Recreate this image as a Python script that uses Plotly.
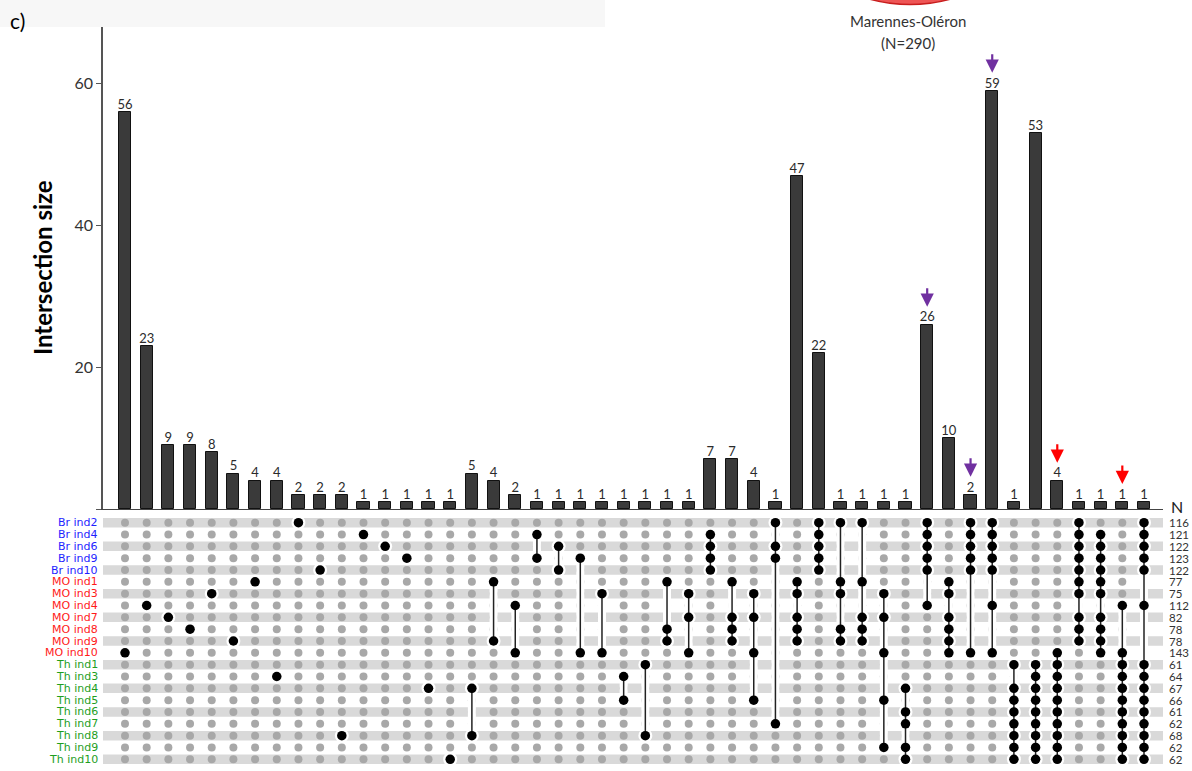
import plotly.graph_objects as go

# ---- data -------------------------------------------------------------
sets = ["Br ind2", "Br ind4", "Br ind6", "Br ind9", "Br ind10",
        "MO ind1", "MO ind3", "MO ind4", "MO ind7", "MO ind8", "MO ind9", "MO ind10",
        "Th ind1", "Th ind3", "Th ind4", "Th ind5", "Th ind6", "Th ind7", "Th ind8",
        "Th ind9", "Th ind10"]
set_sizes = [116, 121, 122, 123, 122, 77, 75, 112, 82, 78, 78, 143,
             61, 64, 67, 66, 61, 62, 68, 62, 62]

intersection_sizes = [56, 23, 9, 9, 8, 5, 4, 4, 2, 2, 2, 1, 1, 1, 1, 1,
                      5, 4, 2, 1, 1, 1, 1, 1, 1, 1, 1, 7, 7, 4, 1, 47,
                      22, 1, 1, 1, 1, 26, 10, 2, 59, 1, 53, 4, 1, 1, 1, 1]

BR = ["Br ind2", "Br ind4", "Br ind6", "Br ind9", "Br ind10"]
TH = ["Th ind1", "Th ind3", "Th ind4", "Th ind5", "Th ind6", "Th ind7", "Th ind8",
      "Th ind9", "Th ind10"]

intersection_members = [
    ["MO ind10"], ["MO ind4"], ["MO ind7"], ["MO ind8"], ["MO ind3"], ["MO ind9"],
    ["MO ind1"], ["Th ind3"], ["Br ind2"], ["Br ind10"], ["Th ind8"], ["Br ind4"],
    ["Br ind6"], ["Br ind9"], ["Th ind4"], ["Th ind10"],
    ["Th ind4", "Th ind8"],
    ["MO ind1", "MO ind9"],
    ["MO ind4", "MO ind10"],
    ["Br ind4", "Br ind9"],
    ["Br ind6", "Br ind10"],
    ["Br ind9", "MO ind10"],
    ["MO ind3", "MO ind10"],
    ["Th ind3", "Th ind5"],
    ["Th ind1", "Th ind8"],
    ["MO ind1", "MO ind8", "MO ind9"],
    ["MO ind3", "MO ind7", "MO ind10"],
    ["Br ind4", "Br ind6", "Br ind9", "Br ind10"],
    ["MO ind1", "MO ind7", "MO ind8", "MO ind9"],
    ["MO ind3", "MO ind7", "MO ind10", "Th ind5"],
    ["Br ind2", "Br ind6", "Br ind9", "Th ind7"],
    ["MO ind1", "MO ind3", "MO ind7", "MO ind8", "MO ind9"],
    BR,
    ["Br ind2", "MO ind1", "MO ind3", "MO ind8", "MO ind9"],
    ["Br ind2", "MO ind1", "MO ind7", "MO ind8", "MO ind9"],
    ["MO ind3", "MO ind7", "MO ind10", "Th ind5", "Th ind9"],
    ["Th ind4", "Th ind6", "Th ind7", "Th ind9", "Th ind10"],
    BR + ["MO ind4"],
    ["MO ind1", "MO ind3", "MO ind7", "MO ind8", "MO ind9", "MO ind10"],
    BR + ["MO ind10"],
    BR + ["MO ind4", "MO ind10"],
    [t for t in TH if t != "Th ind3"],
    TH,
    ["MO ind10"] + TH,
    BR + ["MO ind1", "MO ind3", "MO ind7", "MO ind8", "MO ind9"],
    ["Br ind4", "Br ind6", "Br ind9", "Br ind10",
     "MO ind1", "MO ind3", "MO ind7", "MO ind8", "MO ind9", "MO ind10"],
    ["MO ind4", "MO ind10"] + TH,
    BR + ["MO ind4"] + TH,
]

purple_marked = [37, 39, 40]   # intersections flagged with a purple arrow
red_marked = [43, 46]          # intersections flagged with a red arrow

group_colors = {"Br": "#1f1fff", "MO": "#ff1a1a", "Th": "#1e9e1e"}

# ---- geometry (pixels on a 1192 x 771 canvas) --------------------------
W, H = 1192, 771
L, R = 103, 1163
PW = R - L


def px_x(p):
    return (p - L) / PW


def px_y(p):
    return (H - p) / H


FONT = "Lato, 'Open Sans', sans-serif"
LABEL_FONT = "'DejaVu Sans', sans-serif"
n_cols = len(intersection_sizes)
cols = list(range(n_cols))
row_of = {s: i for i, s in enumerate(sets)}
step = (1144 - 125) / (n_cols - 1)
x_range = [-(125 - L) / step, (n_cols - 1) + (R - 1144) / step]

fig = go.Figure()

# ---- bar chart ------------------------------------------------------------
fig.add_trace(go.Bar(
    x=cols, y=intersection_sizes, width=0.56,
    marker=dict(color="#3a3a3a", line=dict(color="#111111", width=1)),
    xaxis="x", yaxis="y", hoverinfo="skip"))
fig.add_trace(go.Scatter(
    x=cols, y=intersection_sizes, mode="text",
    text=[str(v) for v in intersection_sizes], textposition="top center",
    textfont=dict(family=FONT, size=13, color="#2b2b2b"),
    cliponaxis=False, xaxis="x", yaxis="y", hoverinfo="skip"))

# ---- matrix -------------------------------------------------------------
shapes = []
for r in range(0, len(sets), 2):
    shapes.append(dict(type="rect", xref="paper", yref="y2", x0=0, x1=1,
                       y0=r - 0.4, y1=r + 0.4, fillcolor="#d9d9d9",
                       line=dict(width=0), layer="below"))

gx, gy, bx, by, lx, ly = [], [], [], [], [], []
for c, members in enumerate(intersection_members):
    rows = sorted(row_of[m] for m in members)
    for r in range(len(sets)):
        if r in rows:
            bx.append(c)
            by.append(r)
        else:
            gx.append(c)
            gy.append(r)
    if len(rows) > 1:
        lx += [c, c, None]
        ly += [rows[0], rows[-1], None]

fig.add_trace(go.Scatter(x=gx, y=gy, mode="markers",
                         marker=dict(size=8, color="#a8a8a8"),
                         xaxis="x", yaxis="y2", hoverinfo="skip"))
fig.add_trace(go.Scatter(x=lx, y=ly, mode="lines",
                         line=dict(color="white", width=8),
                         xaxis="x", yaxis="y2", hoverinfo="skip"))
fig.add_trace(go.Scatter(x=bx, y=by, mode="markers",
                         marker=dict(size=14, color="white"),
                         xaxis="x", yaxis="y2", hoverinfo="skip"))
fig.add_trace(go.Scatter(x=lx, y=ly, mode="lines",
                         line=dict(color="#222222", width=1.5),
                         xaxis="x", yaxis="y2", hoverinfo="skip"))
fig.add_trace(go.Scatter(x=bx, y=by, mode="markers",
                         marker=dict(size=9.5, color="black"),
                         xaxis="x", yaxis="y2", hoverinfo="skip"))

annotations = []
for r, (name, n) in enumerate(zip(sets, set_sizes)):
    annotations.append(dict(x=px_x(100), y=r, xref="paper", yref="y2",
                            xanchor="right", yanchor="middle", showarrow=False,
                            text=name, font=dict(family=LABEL_FONT, size=11,
                                                 color=group_colors[name[:2]])))
    annotations.append(dict(x=px_x(1167), y=r, xref="paper", yref="y2",
                            xanchor="left", yanchor="middle", showarrow=False,
                            text=str(n), font=dict(family=FONT, size=11.5, color="#333333")))
annotations.append(dict(x=px_x(1169), y=px_y(506), xref="paper", yref="paper",
                        xanchor="left", yanchor="middle", showarrow=False,
                        text="N", font=dict(family=FONT, size=16, color="#222222")))

# arrows flagging intersections
for idxs, colr in ((purple_marked, "#7030a0"), (red_marked, "#ff0000")):
    for c in idxs:
        annotations.append(dict(x=c, y=intersection_sizes[c], xref="x", yref="y",
                                ax=0, ay=-38, axref="pixel", ayref="pixel",
                                showarrow=True, arrowhead=2, arrowsize=1.2,
                                arrowwidth=2.2, arrowcolor=colr, standoff=18, text=""))

# axis title and panel texts
annotations.append(dict(x=px_x(42), y=px_y(268), xref="paper", yref="paper",
                        xanchor="center", yanchor="middle",
                        textangle=-90, showarrow=False, text="<b>Intersection size</b>",
                        font=dict(family=FONT, size=24, color="black")))
annotations.append(dict(x=px_x(8), y=px_y(20), xref="paper", yref="paper",
                        xanchor="left", yanchor="middle", showarrow=False, text="c)",
                        font=dict(family=FONT, size=21, color="black")))
annotations.append(dict(x=px_x(908), y=px_y(21), xref="paper", yref="paper",
                        xanchor="center", yanchor="middle", showarrow=False,
                        text="Marennes-Oléron", font=dict(family=FONT, size=15, color="#333333")))
annotations.append(dict(x=px_x(908), y=px_y(43), xref="paper", yref="paper",
                        xanchor="center", yanchor="middle", showarrow=False,
                        text="(N=290)", font=dict(family=FONT, size=15, color="#333333")))

# light header strip and the edge of the Marennes-Oléron circle
shapes.append(dict(type="rect", xref="paper", yref="paper",
                   x0=px_x(0), x1=px_x(605), y0=px_y(27), y1=px_y(0),
                   fillcolor="#f7f7f7", line=dict(width=0), layer="below"))
shapes.append(dict(type="circle", xref="paper", yref="paper",
                   x0=px_x(756), x1=px_x(1064), y0=px_y(4.5), y1=px_y(-303.5),
                   fillcolor="#ee5555", line=dict(color="#c81e1e", width=1.5)))

fig.update_layout(
    width=W, height=H,
    margin=dict(l=L, r=W - R, t=0, b=0),
    paper_bgcolor="white", plot_bgcolor="rgba(0,0,0,0)",
    showlegend=False, bargap=0,
    font=dict(family=FONT, color="#333333"),
    xaxis=dict(domain=[0, 1], range=x_range, anchor="y", showgrid=False,
               zeroline=False, showticklabels=False, ticks="",
               showline=True, linecolor="#444444", linewidth=1),
    yaxis=dict(domain=[px_y(509), px_y(27)], range=[0, 68], anchor="x",
               showgrid=False, zeroline=False, showline=True,
               linecolor="#555555", linewidth=1.5, ticks="outside", ticklen=5,
               tickcolor="#555555", tickvals=[0, 20, 40, 60],
               ticktext=["", "20", "40", "60"],
               tickfont=dict(family=FONT, size=16, color="#333333")),
    yaxis2=dict(domain=[px_y(766), px_y(516)], range=[20.566, -0.566],
                anchor="x", showgrid=False, zeroline=False, showticklabels=False,
                showline=False, ticks=""),
    shapes=shapes,
    annotations=annotations,
)

fig.write_html("out.html")
